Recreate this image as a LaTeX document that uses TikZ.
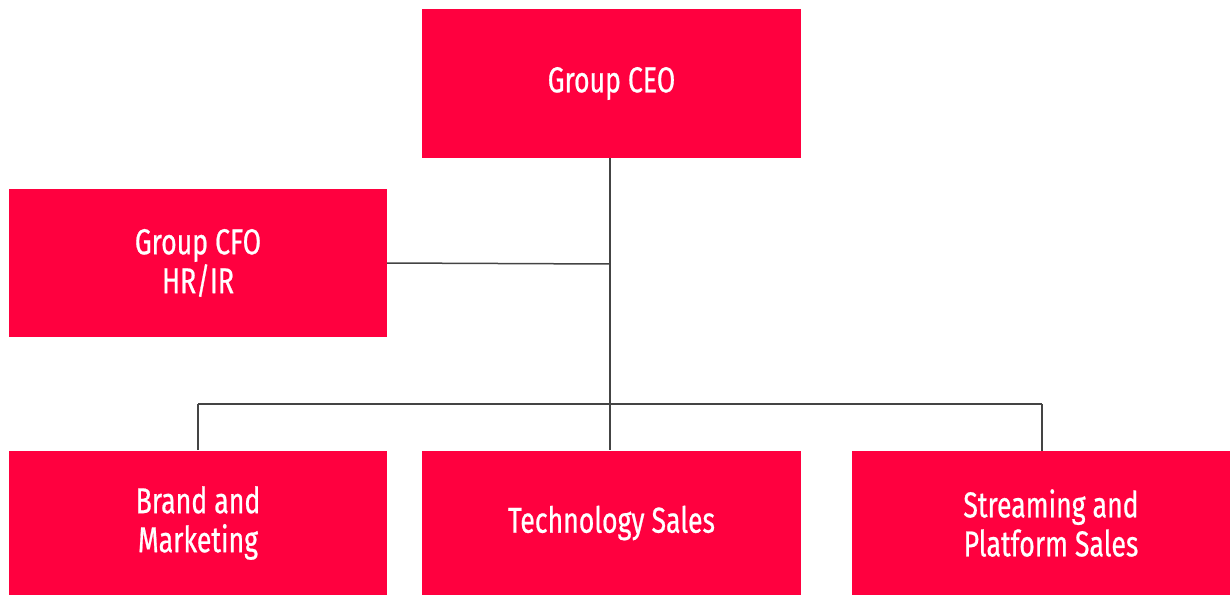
\documentclass[tikz,border=0pt]{standalone}
\usepackage{fontspec}
\setmainfont[FakeStretch=0.74,FakeBold=0.6]{Fira Sans}
\definecolor{boxred}{HTML}{FF003F}
\definecolor{linegrey}{HTML}{444444}
\begin{document}
\begin{tikzpicture}[x=1pt,y=-1pt,
  orgbox/.style={fill=boxred, draw=none, text=white, minimum width=378pt, align=center,
    font=\fontsize{36}{39}\selectfont, inner sep=0pt},
  link/.style={draw=linegrey, line width=1.5pt}]
\useasboundingbox (0,0) rectangle (1230,594);
\node[orgbox, minimum height=149pt, minimum width=379pt] (ceo) at (611.5,83.5) {Group CEO};
\node[orgbox, minimum height=148pt] (cfo) at (198,263) {Group CFO\\HR/IR};
\node[orgbox, minimum height=145pt] (brand) at (198,523) {Brand and\\Marketing};
\node[orgbox, minimum height=145pt, minimum width=379pt] (tech) at (611.5,523) {Technology Sales};
\node[orgbox, minimum height=145pt, minimum width=398pt] (stream) at (1051,523) {Streaming and\\Platform Sales};
\coordinate (bus) at (610,404);
\coordinate (mid) at (610,264);
\coordinate (streamtop) at (1042,450.5);
\draw[link] (ceo.south -| bus) -- (bus);
\draw[link] (cfo.east) -- (mid);
\draw[link] (bus -| brand.north) -- (brand.north);
\draw[link] (bus -| streamtop) -- (streamtop);
\draw[link] (bus -| brand.north) -- (bus -| streamtop);
\draw[link] (bus) -- (tech.north -| bus);
\end{tikzpicture}
\end{document}
